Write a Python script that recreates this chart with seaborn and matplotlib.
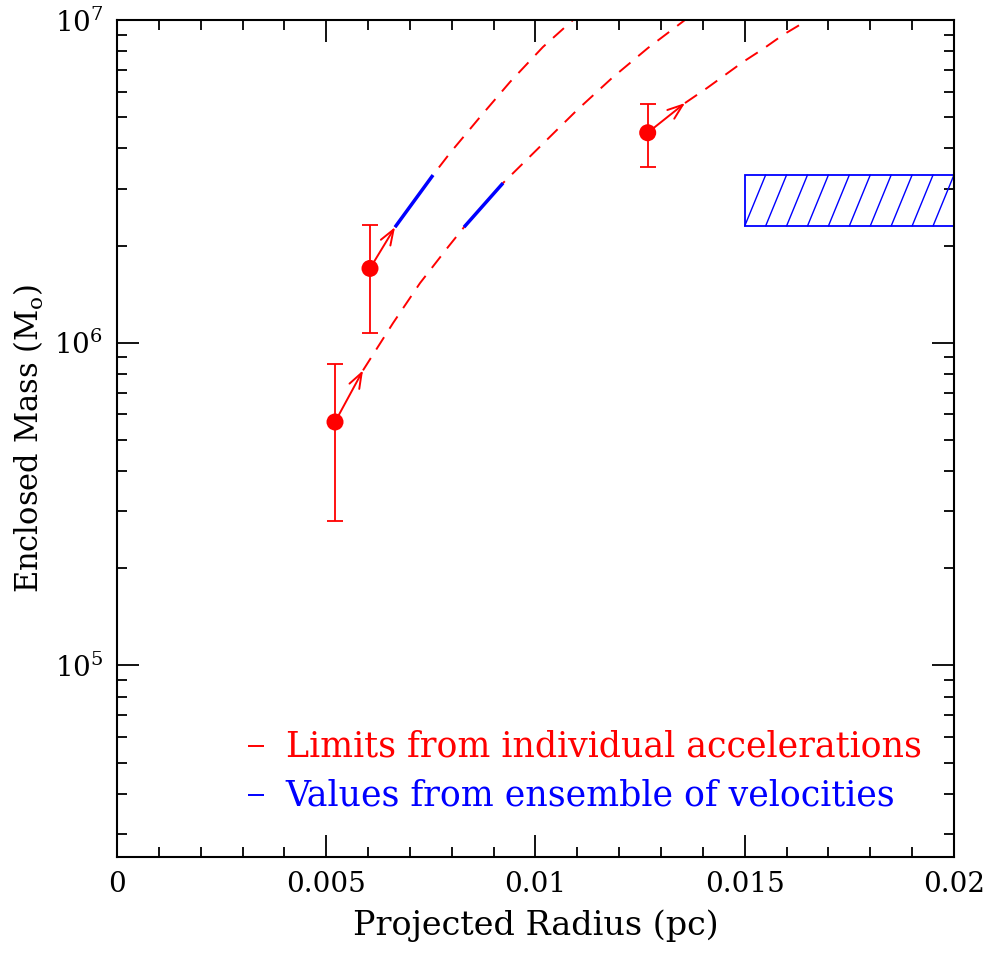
import numpy as np
import pandas as pd
import matplotlib
matplotlib.use('Agg')
import matplotlib.pyplot as plt
import seaborn as sns
from matplotlib.ticker import MultipleLocator, LogLocator, FuncFormatter, NullFormatter, FixedLocator, LogFormatterMathtext

# ---------------- data ----------------
star_r = [0.005209, 0.006045, 0.012681]
star_m = [5.68e5, 1.699e6, 4.473e6]
star_m_hi = [8.56e5, 2.314e6, 5.477e6]
star_m_lo = [2.80e5, 1.073e6, 3.494e6]

tip_r = [0.005878, 0.006643, 0.013572]
tip_m = [8.21e5, 2.281e6, 5.528e6]

curveA_r = [0.005878, 0.006595, 0.007240, 0.007909, 0.008292, 0.009223, 0.010994, 0.011828, 0.012688, 0.013572]
curveA_m = [8.21e5, 1.150e6, 1.530e6, 1.978e6, 2.281e6, 3.123e6, 5.26e6, 6.61e6, 8.19e6, 1.0e7]
curveB_r = [0.006643, 0.007551, 0.007957, 0.008674, 0.009391, 0.010179, 0.010896]
curveB_m = [2.281e6, 3.307e6, 3.870e6, 5.003e6, 6.425e6, 8.25e6, 1.0e7]
curveC_r = [0.013572, 0.014098, 0.014958, 0.015436, 0.015914, 0.016511]
curveC_m = [5.528e6, 6.153e6, 7.411e6, 8.13e6, 8.99e6, 1.0e7]

blueA_r = [0.008292, 0.009223]
blueA_m = [2.281e6, 3.123e6]
blueB_r = [0.006643, 0.007551]
blueB_m = [2.281e6, 3.307e6]

ens_r = [0.015, 0.02]
ens_m = [2.30e6, 3.31e6]

x_ticks = [0, 0.005, 0.01, 0.015, 0.02]
x_ticklabels = ['0', '0.005', '0.01', '0.015', '0.02']

legend_texts = ['Limits from individual accelerations', 'Values from ensemble of velocities']
legend_colors = ['#ff0000', '#0000ff']

RED = '#ff0000'
BLUE = '#0000ff'

# ---------------- style ----------------
sns.set_theme(style='ticks')
plt.rcParams['font.family'] = ['DejaVu Serif']
plt.rcParams['mathtext.fontset'] = 'dejavuserif'
plt.rcParams['text.color'] = 'black'
plt.rcParams['axes.labelcolor'] = 'black'
plt.rcParams['xtick.color'] = 'black'
plt.rcParams['ytick.color'] = 'black'

fig = plt.figure(figsize=(9.96, 9.56), dpi=100)
ax = fig.add_axes([0.1175, 0.1036, 0.8403, 0.8755])
ax.set_yscale('log')
ax.set_xlim(0, 0.02)
ax.set_ylim(2.55e4, 1e7)

dash = (0, (7.5, 5.2))
for r, m in [(curveA_r, curveA_m), (curveB_r, curveB_m), (curveC_r, curveC_m)]:
    sns.lineplot(x=r, y=m, ax=ax, color=RED, lw=1.4, linestyle=dash,
                 sort=False, estimator=None)
for r, m in [(blueA_r, blueA_m), (blueB_r, blueB_m)]:
    sns.lineplot(x=r, y=m, ax=ax, color=BLUE, lw=2.5, sort=False,
                 estimator=None, solid_capstyle='butt')

# error bars + points
lo = np.array(star_m) - np.array(star_m_lo)
hi = np.array(star_m_hi) - np.array(star_m)
ax.errorbar(star_r, star_m, yerr=[lo, hi], fmt='none', ecolor=RED,
            elinewidth=1.3, capsize=5.5, capthick=1.3, zorder=3)
sns.scatterplot(x=star_r, y=star_m, ax=ax, color=RED, s=150,
                edgecolor='none', zorder=4)

# arrows
for r0, m0, r1, m1 in zip(star_r, star_m, tip_r, tip_m):
    ax.annotate('', xy=(r1, m1), xytext=(r0, m0),
                arrowprops=dict(arrowstyle='->,head_length=0.55,head_width=0.2',
                                color=RED, lw=1.4,
                                mutation_scale=20, shrinkA=0, shrinkB=0),
                zorder=5)

# hatched ensemble box
x0, x1 = ens_r
y0, y1 = ens_m
ax.plot([x1, x0, x0, x1], [y0, y0, y1, y1], color=BLUE, lw=1.3,
        solid_joinstyle='miter', clip_on=False)
step = 0.0005
for xs in np.arange(x0, x1 - 1e-9, step):
    ax.plot([xs, xs + step], [y0, y1], color=BLUE, lw=1.0)

# legend as text with short line keys
for i, (t, c) in enumerate(zip(legend_texts, legend_colors)):
    ypos = 0.1325 - i * 0.059
    ax.plot([0.1565, 0.1756], [ypos, ypos], color=c, lw=1.4,
            transform=ax.transAxes, solid_capstyle='butt')
    ax.text(0.2015, ypos, t, color=c, fontsize=25,
            transform=ax.transAxes, va='center', ha='left')

# axes formatting
ax.xaxis.set_major_locator(FixedLocator(x_ticks))
ax.xaxis.set_major_formatter(FuncFormatter(lambda v, p: x_ticklabels[x_ticks.index(min(x_ticks, key=lambda t: abs(t - v)))]))
ax.xaxis.set_minor_locator(MultipleLocator(0.001))
ax.yaxis.set_major_locator(LogLocator(base=10))
ax.yaxis.set_major_formatter(LogFormatterMathtext(base=10))
ax.yaxis.set_minor_locator(LogLocator(base=10, subs=np.arange(2, 10)))
ax.yaxis.set_minor_formatter(NullFormatter())

ax.tick_params(which='both', direction='in', top=True, right=True,
               color='black', width=1.3, labelsize=20, labelcolor='black')
ax.tick_params(which='major', length=15.5, pad=10)
ax.tick_params(which='minor', length=7.5)
for s in ax.spines.values():
    s.set_linewidth(1.5)
    s.set_color('black')

ax.set_xlabel('Projected Radius (pc)', fontsize=24, labelpad=8)
ax.set_ylabel(r'Enclosed Mass (M$_{\mathrm{o}}$)', fontsize=22, labelpad=6)

fig.savefig('out.png', dpi=100, facecolor='white')
